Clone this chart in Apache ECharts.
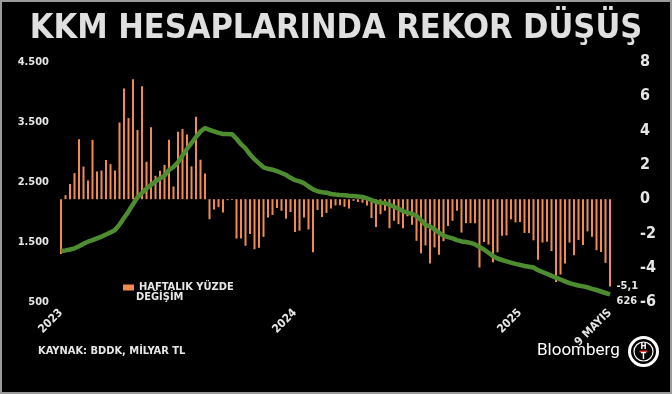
<!DOCTYPE html>
<html><head><meta charset="utf-8">
<script src="https://cdn.jsdelivr.net/npm/echarts@6/dist/echarts.min.js"></script>
<style>html,body{margin:0;padding:0;background:#000}#c{width:672px;height:394px}</style>
</head><body><div id="c"></div>
<script>
const FONT = '"DejaVu Sans Condensed","DejaVu Sans",sans-serif';

// Weekly dates (Fridays), first week of 2023 to 9 May 2025
const startDate = '2023-01-06';
const weekCount = 123;

// Weekly % change of KKM balance (right axis)
const weeklyChange = [
  -3.2, 0.23, 0.88, 1.52, 3.5, 1.9, 1.09, 3.46, 1.61, 1.67,
  2.28, 2.04, 1.67, 4.47, 6.46, 4.73, 7.0, 4.03, 6.58, 2.18,
  4.2, 1.36, 1.65, 2.0, 3.46, 0.74, 3.93, 4.09, 3.77, 1.91,
  4.8, 2.3, 1.5, -1.17, -0.6, -0.47, -0.78, -0.06, -0.05, -2.3,
  -2.3, -2.72, -2.04, -2.92, -2.84, -2.2, -1.07, -0.92, -0.52, -0.68,
  -1.15, -0.75, -1.92, -1.84, -1.07, -1.77, -3.1, -0.63, -1.04, -0.8,
  -0.54, -0.37, -0.35, -0.45, -0.54, -0.1, -0.17, -0.21, -0.37, -1.1,
  -1.62, -0.88, -0.68, -1.7, -1.26, -1.46, -1.7, -1.0, -1.5, -2.43,
  -3.15, -2.7, -3.75, -2.82, -3.25, -2.45, -1.56, -1.26, -0.68, -1.95,
  -1.4, -1.4, -1.4, -3.99, -2.5, -2.65, -3.68, -3.1, -2.14, -2.12,
  -1.17, -1.36, -1.34, -1.97, -1.97, -2.4, -3.54, -2.53, -2.49, -3.03,
  -4.84, -4.4, -3.75, -2.53, -3.27, -2.38, -2.68, -1.88, -2.2, -2.98,
  -3.09, -3.72, -5.1
];

// KKM balance, billion TL (left axis)
const kkmStock = [
  1350, 1360, 1375, 1395, 1430, 1470, 1505, 1530, 1560, 1590,
  1625, 1660, 1700, 1790, 1900, 2010, 2130, 2245, 2320, 2390,
  2450, 2510, 2560, 2605, 2700, 2750, 2830, 2940, 3050, 3150,
  3250, 3340, 3400, 3370, 3345, 3320, 3300, 3298, 3297, 3220,
  3130, 3060, 2960, 2880, 2810, 2745, 2720, 2705, 2680, 2650,
  2620, 2570, 2530, 2510, 2480, 2425, 2378, 2345, 2330, 2322,
  2300, 2292, 2285, 2280, 2272, 2265, 2258, 2250, 2228, 2200,
  2170, 2155, 2150, 2120, 2088, 2055, 2015, 1990, 1970, 1935,
  1865, 1783, 1760, 1710, 1655, 1605, 1580, 1560, 1530, 1510,
  1500, 1485, 1460, 1415, 1375, 1320, 1265, 1225, 1200, 1178,
  1155, 1135, 1118, 1100, 1088, 1075, 1030, 1000, 970, 935,
  905, 875, 845, 815, 795, 775, 760, 745, 720, 700,
  675, 650, 626
];

// X tick labels by week index
const xTickLabels = {0: '2023', 52: '2024', 102: '2025', 122: '9 MAYIS'};

const titleText = 'KKM HESAPLARINDA REKOR DÜŞÜŞ';
const barName = 'HAFTALIK YÜZDE DEĞİŞİM';
const lineName = 'KKM (MİLYAR TL)';
const sourceText = 'KAYNAK: BDDK, MİLYAR TL';

const categories = [];
{
  const d0 = new Date(startDate + 'T00:00:00Z');
  for (let i = 0; i < weekCount; i++) {
    const d = new Date(d0.getTime() + i * 7 * 86400000);
    categories.push(d.toISOString().slice(0, 10));
  }
}
const lastIdx = weekCount - 1;
const thou = v => String(v).replace(/\B(?=(\d{3})+(?!\d))/g, '.');

const chart = echarts.init(document.getElementById('c'));
chart.setOption({
  backgroundColor: '#000',
  animation: false,
  title: {
    text: titleText, left: 'center', top: 7,
    textStyle: {color: '#e0e0e0', fontSize: 34, fontWeight: 'bold', fontFamily: FONT}
  },
  legend: {
    data: [barName], left: 118, top: 277, itemWidth: 11, itemHeight: 6, itemGap: 0,
    icon: 'rect',
    formatter: () => 'HAFTALIK YÜZDE',
    textStyle: {color: '#e6e6e6', fontSize: 11, fontWeight: 'bold', fontFamily: FONT}
  },
  grid: {left: 61, right: 62, top: 62, bottom: 92, containLabel: false},
  xAxis: {
    type: 'category', data: categories, boundaryGap: false,
    axisLine: {show: false}, axisTick: {show: false},
    axisLabel: {
      interval: (idx) => xTickLabels[idx] !== undefined,
      formatter: (val, idx) => xTickLabels[idx] || '',
      rotate: 45, margin: 9, color: '#e6e6e6', fontSize: 11.5, fontWeight: 'bold', fontFamily: FONT
    },
    splitLine: {show: false}
  },
  yAxis: [
    {
      type: 'value', position: 'left', min: 500, max: 4500, interval: 1000,
      axisLine: {show: false}, axisTick: {show: false}, splitLine: {show: false},
      axisLabel: {formatter: thou, color: '#e6e6e6', fontSize: 11, fontWeight: 'bold', fontFamily: FONT, margin: 12}
    },
    {
      type: 'value', position: 'right', min: -6, max: 8, interval: 2,
      axisLine: {show: false}, axisTick: {show: false}, splitLine: {show: false},
      axisLabel: {color: '#e6e6e6', fontSize: 16, fontWeight: 'bold', fontFamily: FONT, margin: 30}
    }
  ],
  series: [
    {
      name: barName, type: 'bar', yAxisIndex: 1, data: weeklyChange, barWidth: 2,
      itemStyle: {color: '#f08c50'},
      markPoint: {
        symbol: 'circle', symbolSize: 1, itemStyle: {color: 'rgba(0,0,0,0)'},
        data: [{coord: [lastIdx, weeklyChange[lastIdx]], value: weeklyChange[lastIdx]}],
        label: {
          show: true, position: 'right', distance: 6,
          formatter: p => String(p.value).replace('.', ','),
          color: '#e6e6e6', fontSize: 11, fontWeight: 'bold', fontFamily: FONT
        }
      }
    },
    {
      name: lineName, type: 'line', yAxisIndex: 0, data: kkmStock,
      showSymbol: false, lineStyle: {color: '#4e8c30', width: 4.5}, itemStyle: {color: '#4e8c30'},
      markPoint: {
        symbol: 'circle', symbolSize: 1, itemStyle: {color: 'rgba(0,0,0,0)'},
        data: [{coord: [lastIdx, kkmStock[lastIdx]], value: kkmStock[lastIdx]}],
        label: {
          show: true, position: 'right', distance: 6, offset: [0, 7],
          formatter: p => thou(p.value),
          color: '#e6e6e6', fontSize: 11, fontWeight: 'bold', fontFamily: FONT
        }
      }
    }
  ],
  graphic: [
    {type: 'rect', shape: {x: 1, y: 1, width: 670, height: 392}, style: {fill: 'none', stroke: '#9a9a9a', lineWidth: 2}, silent: true},
    {type: 'text', left: 136, top: 292, style: {text: 'DEĞİŞİM', fill: '#e6e6e6', font: 'bold 11px ' + FONT}},
    {type: 'text', left: 38, top: 346, style: {text: sourceText, fill: '#e6e6e6', font: 'bold 11px ' + FONT}},
    {type: 'text', left: 537, top: 342, style: {text: 'Bloomberg', fill: '#ffffff', font: '17px Roboto, "Open Sans", sans-serif'}},
    {type: 'group', left: 628, top: 336, children: [
      {type: 'circle', shape: {cx: 15, cy: 16, r: 14}, style: {fill: '#000', stroke: '#fff', lineWidth: 3}},
      {type: 'circle', shape: {cx: 15, cy: 16, r: 9.5}, style: {fill: '#000', stroke: '#fff', lineWidth: 1.2}},
      {type: 'text', style: {text: 'H', x: 15, y: 11, fill: '#fff', font: 'bold 8px ' + FONT, align: 'center', verticalAlign: 'middle'}},
      {type: 'line', shape: {x1: 11, y1: 16, x2: 19, y2: 16}, style: {stroke: '#e53935', lineWidth: 2}},
      {type: 'text', style: {text: 'T', x: 15, y: 21, fill: '#fff', font: 'bold 8px ' + FONT, align: 'center', verticalAlign: 'middle'}}
    ]}
  ]
});
</script></body></html>
